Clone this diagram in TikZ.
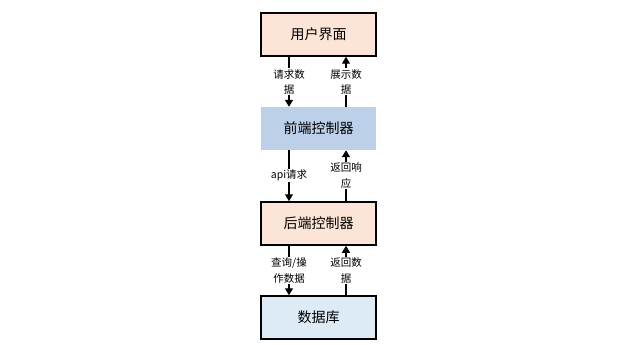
\documentclass[tikz,border=0pt]{standalone}
\usepackage{fontspec}
\setmainfont{Noto Sans CJK SC}
\usetikzlibrary{arrows.meta}
\definecolor{peach}{HTML}{FCE4D6}
\definecolor{midblue}{HTML}{BDD0EA}
\definecolor{paleblue}{HTML}{DDEBF7}
\begin{document}
\begin{tikzpicture}[x=1pt,y=-1pt,
  box/.style={minimum width=115pt,minimum height=43pt,inner sep=0pt,font=\fontsize{14}{16}\selectfont},
  bbox/.style={box,draw=black,line width=1.5pt},
  conn/.style={line width=1.4pt,-{Triangle[width=8pt,length=7pt]}},
  lab/.style={fill=white,inner sep=1pt,align=center,font=\fontsize{10.5}{15.5}\selectfont}]
\useasboundingbox (0,0) rectangle (638,345);
\fill[white] (0,0) rectangle (638,345);
\node[bbox,fill=peach] (ui) at (318.5,34.5) {用户界面};
\node[box,fill=midblue] (fe) at (318.5,128.5) {前端控制器};
\node[bbox,fill=peach] (be) at (318.5,223.5) {后端控制器};
\node[bbox,fill=paleblue] (db) at (318.5,317.5) {数据库};
% ui <-> fe
\draw[conn] (ui.south -| 289,0) -- (fe.north -| 289,0) node[midway,lab] {请求数\\据};
\draw[conn] (fe.north -| 346,0) -- (ui.south -| 346,0) node[midway,lab] {展示数\\据};
% fe <-> be
\draw[conn] (fe.south -| 289,0) -- (be.north -| 289,0) node[midway,lab] {api请求};
\draw[conn] (be.north -| 346,0) -- (fe.south -| 346,0) node[midway,lab] {返回响\\应};
% be <-> db
\draw[conn] (be.south -| 289,0) -- (db.north -| 289,0) node[midway,lab] {查询/操\\作数据};
\draw[conn] (db.north -| 346,0) -- (be.south -| 346,0) node[midway,lab] {返回数\\据};
\end{tikzpicture}
\end{document}
